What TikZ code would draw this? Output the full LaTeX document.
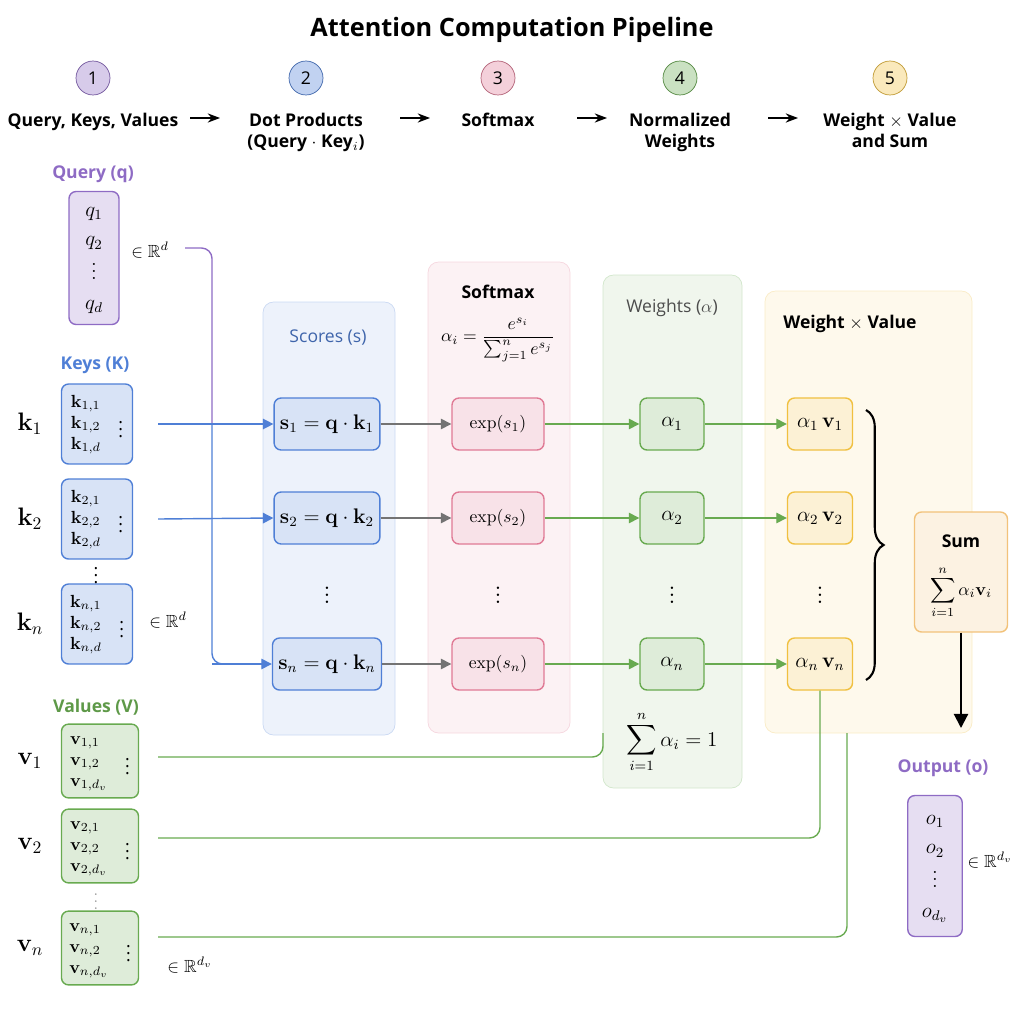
\documentclass[tikz,border=0pt]{standalone}
\usepackage[no-math]{fontspec}
\setsansfont{Open Sans}
\usepackage{amsmath,amssymb}
\usetikzlibrary{arrows.meta,positioning,decorations.pathreplacing}

\definecolor{qpurple}{HTML}{8E6BC4}
\definecolor{kblue}{HTML}{4F7FD6}
\definecolor{spink}{HTML}{E07A95}
\definecolor{vgreen}{HTML}{68AA50}
\definecolor{wyellow}{HTML}{F0C040}
\definecolor{sorange}{HTML}{F2C27A}

\newcommand{\colvec}[2]{$\begin{array}{@{}l@{}}\mathbf{#1}_{#2,1}\\ \mathbf{#1}_{#2,2}\\ \mathbf{#1}_{#2,d\ifx#1v_v\fi}\end{array}\quad\vcenter{\hbox{$\vdots$}}$}

\tikzset{
  step/.style={circle, draw=#1!80!black, fill=#1!35, minimum size=0.68cm, inner sep=0pt, font=\sffamily},
  steplabel/.style={font=\sffamily\bfseries, align=center},
  panel/.style={rounded corners=6pt, draw=#1!30, fill=#1!10},
  cell/.style={rounded corners=4pt, draw=#1, fill=#1!22, thick, minimum height=1.04cm, font=\large},
  vec/.style={rounded corners=4pt, draw=#1, fill=#1!22, thick, inner sep=3pt},
  flow/.style={thick, -{Triangle[length=6pt,width=6pt]}},
}

\begin{document}
\begin{tikzpicture}[x=0.02cm, y=-0.02cm, font=\sffamily]
		\useasboundingbox (0,0) rectangle (1024,1024);

		% Title and steps
		\node[font=\sffamily\bfseries\Large] (title) at (512,30) {Attention Computation Pipeline};
		\foreach \x/\n/\c/\name in {93/1/qpurple/sa,306/2/kblue/sb,498/3/spink/sc,680/4/vgreen/sd,890/5/wyellow/se}
		{
			\node[step=\c] (\name) at (\x,78) {\n};
		}
		\node[steplabel, anchor=north] (la) at (93,107) {Query, Keys, Values};
		\node[steplabel, anchor=north] (lb) at (306,107) {Dot Products\\(Query $\cdot$ Key$_i$)};
		\node[steplabel, anchor=north] (lc) at (498,107) {Softmax};
		\node[steplabel, anchor=north] (ld) at (680,107) {Normalized\\Weights};
		\node[steplabel, anchor=north] (le) at (890,107) {Weight $\times$ Value\\and Sum};
		\foreach \x in {205,415,592,783}
		{
			\draw[thick, -{Stealth[length=7pt]}] (\x-15,118) -- (\x+15,118);
		}

		% Panels
		\draw[panel=kblue] (263,302) rectangle (395,735);
		\draw[panel=spink] (428,262) rectangle (570,733);
		\draw[panel=vgreen] (603,275) rectangle (742,788);
		\draw[panel=wyellow] (765,291) rectangle (972,733);
		\node[kblue!80!black] (tscore) at (328,338) {Scores (s)};
		\node (tsoft) at (498,292) {\textbf{Softmax}};
		\node (fsoft) at (498,340) {$\alpha_i=\dfrac{e^{s_i}}{\sum_{j=1}^{n}e^{s_j}}$};
		\node[black!70] (tw) at (672,308) {Weights ($\alpha$)};
		\node (twv) at (850,324) {\textbf{Weight $\times$ Value}};

		% Query
		\node[qpurple, font=\sffamily\bfseries] (tq) at (93,174) {Query (q)};
		\node[vec=qpurple, minimum width=1cm, minimum height=2.66cm, font=\large] (q) at (94,258)
			{$\begin{array}{c} q_1\\[3pt] q_2\\ \vdots\\[3pt] q_d\end{array}$};
		\node (qr) at (150,250) {$\in\mathbb{R}^d$};

		% Keys
		\node[kblue, font=\sffamily\bfseries] (tk) at (95,365) {Keys (K)};
		\foreach \i/\y/\s in {1/424/1,2/519/2,n/624/n}
		{
			\node[vec=kblue, minimum width=1.42cm, minimum height=1.6cm] (k\s) at (97,\y) {\colvec{k}{\i}};
			\node[font=\Large] (kl\s) at (30,\y) {$\mathbf{k}_\i$};
		}
		\node (kdots) at (96,570) {$\vdots$};
		\node (kr) at (168,620) {$\in\mathbb{R}^d$};

		% Values
		\node[vgreen!90!black, font=\sffamily\bfseries] (tv) at (96,707) {Values (V)};
		\foreach \i/\y/\s in {1/761/1,2/846/2,n/948/n}
		{
			\node[vec=vgreen, minimum width=1.54cm, minimum height=1.44cm] (v\s) at (100,\y) {\colvec{v}{\i}};
			\node[font=\Large] (vl\s) at (30,\y) {$\mathbf{v}_\i$};
		}
		\node[black!40, font=\small] (vdots) at (96,896) {$\vdots$};
		\node (vr) at (190,965) {$\in\mathbb{R}^{d_v}$};

		% Rows
		\foreach \i/\y/\s in {1/424/1,2/518/2,n/664/n}
		{
			\node[cell=kblue, minimum width=2.04cm] (s\s) at (327,\y) {$\mathbf{s}_\i=\mathbf{q}\cdot\mathbf{k}_\i$};
			\node[cell=spink, minimum width=1.84cm] (e\s) at (498,\y) {\normalsize exp($s_\i$)};
			\node[cell=vgreen, minimum width=1.28cm] (a\s) at (672,\y) {$\alpha_\i$};
			\node[cell=wyellow, minimum width=1.3cm] (w\s) at (820,\y) {$\alpha_\i\,\mathbf{v}_\i$};
			\draw[flow, black!55] (s\s) -- (e\s);
			\draw[flow, vgreen] (e\s) -- (a\s);
			\draw[flow, vgreen] (a\s) -- (w\s);
		}
		\foreach \x in {327,498,672,820}
		{
			\node[font=\Large] at (\x,590) {$\vdots$};
		}
		\node[font=\large] (asum) at (672,742) {$\displaystyle\sum_{i=1}^{n}\alpha_i=1$};

		% Query and keys to scores
		\coordinate (qt) at (185,248);
		\draw[thick, qpurple, rounded corners=6pt] (qt) -| (212,424);
		\draw[thick, kblue, rounded corners=6pt] (212,424) -- (212,664) -- (212+6,664);
		\draw[flow, kblue] (212,664) -- (sn.west);
		\draw[flow, kblue] (k1.east)++(25,0) -- (s1.west);
		\draw[flow, kblue] (k2.east)++(25,0) -- (s2.west);

		% Values to weighted values
		\draw[thick, vgreen, rounded corners=6pt] (158,757) -| (603,733);
		\draw[thick, vgreen, rounded corners=6pt] (158,838) -| (wn.south);
		\draw[thick, vgreen, rounded corners=6pt] (158,937) -| (847,733);

		% Sum and output
		\node[vec=sorange, minimum width=1.86cm, minimum height=2.4cm] (sum) at (961,572) {};
		\node (tsum) at (961,541) {\textbf{Sum}};
		\node (fsum) at (961,592) {$\displaystyle\sum_{i=1}^{n}\alpha_i\mathbf{v}_i$};
		\draw[very thick, decorate, decoration={brace, amplitude=10pt}] (866,410) -- (866,680);
		\draw[very thick, -{Triangle[length=8pt,width=8pt]}] (sum.south) -- (961,728);
		\node[qpurple, font=\sffamily\bfseries] (to) at (943,768) {Output (o)};
		\node[vec=qpurple, minimum width=1cm, minimum height=2.82cm, font=\large] (o) at (935,866)
			{$\begin{array}{c} o_1\\[3pt] o_2\\ \vdots\\[3pt] o_{d_v}\end{array}$};
		\node (or) at (990,860) {$\in\mathbb{R}^{d_v}$};
	\end{tikzpicture}
\end{document}
